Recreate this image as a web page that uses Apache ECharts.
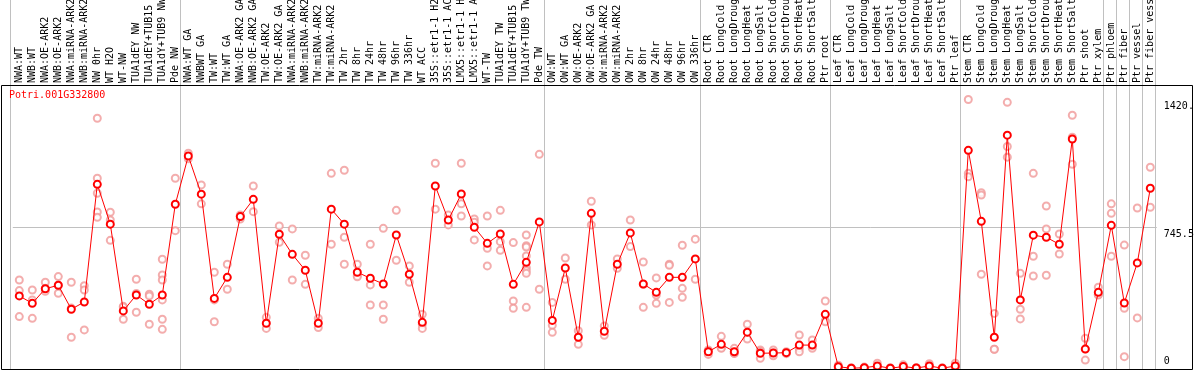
<!DOCTYPE html>
<html><head><meta charset="utf-8">
<script src="https://cdn.jsdelivr.net/npm/echarts@6/dist/echarts.min.js"></script>
<style>html,body{margin:0;padding:0;background:#fff}#c{width:1194px;height:370px}</style>
</head><body><div id="c"></div>
<script>
const geneName = 'Potri.001G332800';

const categories = [
  'NWA:WT','NWB:WT','NWA:OE-ARK2','NWB:OE-ARK2','NWA:miRNA-ARK2','NWB:miRNA-ARK2','NW 0hr','WT H2O','WT-NW',
  'TUA1dEY NW','TUA1dEY+TUB15','TUA1dY+TUB9 NW','Pde NW',
  'NWA:WT GA','NWBWT GA','TW:WT','TW:WT GA','NWA:OE-ARK2 GA','NWB:OE-ARK2 GA','TW:OE-ARK2','TW:OE-ARK2 GA',
  'NWA:miRNA-ARK2 GA','NWB:miRNA-ARK2 GA','TW:miRNA-ARK2','TW:miRNA-ARK2 GA','TW 2hr','TW 8hr','TW 24hr','TW 48hr',
  'TW 96hr','TW 336hr','WT ACC','35S::etr1-1 H2O','35S::etr1-1 ACC','LMX5::etr1-1 H2O','LMX5::etr1-1 ACC','WT-TW',
  'TUA1dEY TW','TUA1dEY+TUB15','TUA1dY+TUB9 TW','Pde TW',
  'OW:WT','OW:WT GA','OW:OE-ARK2','OW:OE-ARK2 GA','OW:miRNA-ARK2','OW:miRNA-ARK2 GA','OW 2hr','OW 8hr','OW 24hr',
  'OW 48hr','OW 96hr','OW 336hr',
  'Root CTR','Root LongCold','Root LongDrought','Root LongHeat','Root LongSalt','Root ShortCold','Root ShortDrought',
  'Root ShortHeat','Root ShortSalt','Ptr root',
  'Leaf CTR','Leaf LongCold','Leaf LongDrought','Leaf LongHeat','Leaf LongSalt','Leaf ShortCold','Leaf ShortDrought',
  'Leaf ShortHeat','Leaf ShortSalt','Ptr leaf',
  'Stem CTR','Stem LongCold','Stem LongDrought','Stem LongHeat','Stem LongSalt','Stem ShortCold','Stem ShortDrought',
  'Stem ShortHeat','Stem ShortSalt','Ptr shoot','Ptr xylem',
  'Ptr phloem','Ptr fiber','Ptr vessel','Ptr fiber vessel'
];

const means = [
  385,346,423,441,315,353,973,763,306,390,341,390,868,
  1122,921,372,483,803,894,241,710,604,520,241,842,763,510,478,448,706,499,246,964,785,922,747,662,711,446,562,775,
  256,532,167,820,199,552,717,448,404,483,483,580,
  91,130,91,194,83,84,86,126,126,288,
  12,4,7,16,4,13,5,16,4,16,
  1152,778,167,1232,364,705,694,657,1212,105,404,
  757,348,559,952
];

const replicates = [
  [469,413,276],[416,364,267],[457,425,409],[487,441,399],[457,321,167],[439,416,206],
  [1321,1005,926,827,799],[826,785,678],[330,326,262],[473,398,299],[394,385,236],
  [578,495,469,364,262,209],[1005,729],
  [1137,1108],[970,870],[510,364,249],[552,420],[812,805,790],[964,829],[272,214],[754,668],
  [738,469],[599,446],[267,218],[1031,657],[1047,694,552],[552,492,486],[657,443,337],[741,337,262],
  [836,573],[543,457],[288,236,214],[1084,842],[812,759],[1084,870,806],[790,773,680],[806,636,543],
  [836,671,625],[666,358,320],[706,650,643,596,534,518,504,325],[1131,420],
  [351,230,193],[585,473],[202,130],[884,759],[227,178],[580,531],[785,645],[564,446,325],[480,390,346],
  [552,546,351],[652,425,378],[684,473],
  [100,95,77],[172,112,109],[109,83,82],[236,158],[100,92,56],[100,84,70],[91,86,81],[179,109,91],[153,118,109],[358,255,249],
  [20,12,5],[6,4,2],[10,7,4],[30,12,6],[6,4,2],[22,12,5],[7,5,3],[28,14,6],[6,4,2],[30,12,6],
  [1420,1031,1013],[929,917,499],[293,104,104],[1405,1172,1116],[504,315,264],[1031,594,490],[859,738,494],
  [711,606],[1337,1221,1079],[162,106,47],[431,392,390],
  [870,820,594],[653,320,65],[848,269],[1063,852]
];

const groupEnds = ['Pde NW','Pde TW','OW 336hr','Ptr root','Ptr leaf','Ptr xylem','Ptr phloem','Ptr fiber','Ptr vessel','Ptr fiber vessel'];

const yMax = 1491;
const yGridValue = 745.5;
const yTickValues = [0, 745.5, 1420];
const yTickLabels = ['0', '745.5', '1420.0'];

// ---- build ----
const FONT = 'DejaVu Sans Mono';
const repData = [];
replicates.forEach((arr, i) => arr.forEach(v => repData.push([i, v])));
const sepData = [[0, 0]].concat(groupEnds.map(n => [categories.lastIndexOf(n), 1]));
const labelFor = v => { const k = yTickValues.indexOf(v); return k >= 0 ? yTickLabels[k] : ''; };

const chart = echarts.init(document.getElementById('c'), null, {renderer: 'canvas'});
chart.setOption({
  animation: false,
  backgroundColor: '#fff',
  title: {
    text: geneName, left: 9, top: 90, padding: 0,
    textStyle: {color: '#ff0000', fontSize: 10, fontFamily: FONT, fontWeight: 'normal'}
  },
  grid: [
    {left: 12.8, width: 1144, top: 86, bottom: 1, containLabel: false, outerBoundsMode: 'none'},
    {left: 1.5, right: 1.5, top: 85.5, bottom: 0.5, show: true, borderColor: '#000', borderWidth: 1,
      backgroundColor: 'transparent', z: 10, containLabel: false, outerBoundsMode: 'none'}
  ],
  xAxis: [
    {
      type: 'category', gridIndex: 0, position: 'top', data: categories, boundaryGap: true,
      axisLine: {show: false}, axisTick: {show: false}, splitLine: {show: false},
      axisLabel: {rotate: 90, interval: 0, margin: 3, color: '#000', fontSize: 10, fontFamily: FONT, hideOverlap: false}
    },
    {type: 'value', gridIndex: 1, show: false, min: 0, max: 1}
  ],
  yAxis: [
    {
      type: 'value', gridIndex: 0, position: 'right', min: 0, max: yMax, interval: yGridValue,
      axisLine: {show: false}, axisTick: {show: false},
      splitLine: {show: true, showMinLine: false, showMaxLine: false, lineStyle: {color: '#c0c0c0', width: 1}},
      axisLabel: {customValues: yTickValues.slice(1), formatter: labelFor, verticalAlign: 'top', padding: [2, 0, 0, 0], margin: 7,
        color: '#000', fontSize: 10, fontFamily: FONT}
    },
    {
      type: 'value', gridIndex: 0, position: 'right', min: 0, max: yMax,
      axisLine: {show: false}, axisTick: {show: false}, splitLine: {show: false},
      axisLabel: {customValues: yTickValues.slice(0, 1), formatter: labelFor, verticalAlign: 'bottom', padding: [0, 0, 3, 0], margin: 7,
        color: '#000', fontSize: 10, fontFamily: FONT}
    },
    {type: 'value', gridIndex: 1, show: false, min: 0, max: 1}
  ],
  series: [
    {
      type: 'custom', xAxisIndex: 0, yAxisIndex: 0, silent: true, z: 1, clip: false,
      data: sepData,
      renderItem: function (params, api) {
        const p = api.coord([api.value(0), 0]);
        const off = api.value(1) === 0 ? -9.3 : 5;
        const x = Math.round(p[0] + off) + 0.5;
        return {type: 'line', shape: {x1: x, y1: 0, x2: x, y2: p[1]}, style: {stroke: '#c0c0c0', lineWidth: 1}};
      }
    },
    {
      type: 'scatter', xAxisIndex: 0, yAxisIndex: 0, z: 3, silent: true,
      data: repData, symbol: 'emptyCircle', symbolSize: 7,
      itemStyle: {color: '#f09898', borderColor: '#f09898', borderWidth: 1}
    },
    {
      type: 'line', xAxisIndex: 0, yAxisIndex: 0, z: 4, silent: true,
      data: means, symbol: 'emptyCircle', symbolSize: 7, showAllSymbol: true,
      lineStyle: {color: '#ff0000', width: 1},
      itemStyle: {color: '#ff0000', borderColor: '#ff0000', borderWidth: 1.2}
    }
  ]
});
</script></body></html>
